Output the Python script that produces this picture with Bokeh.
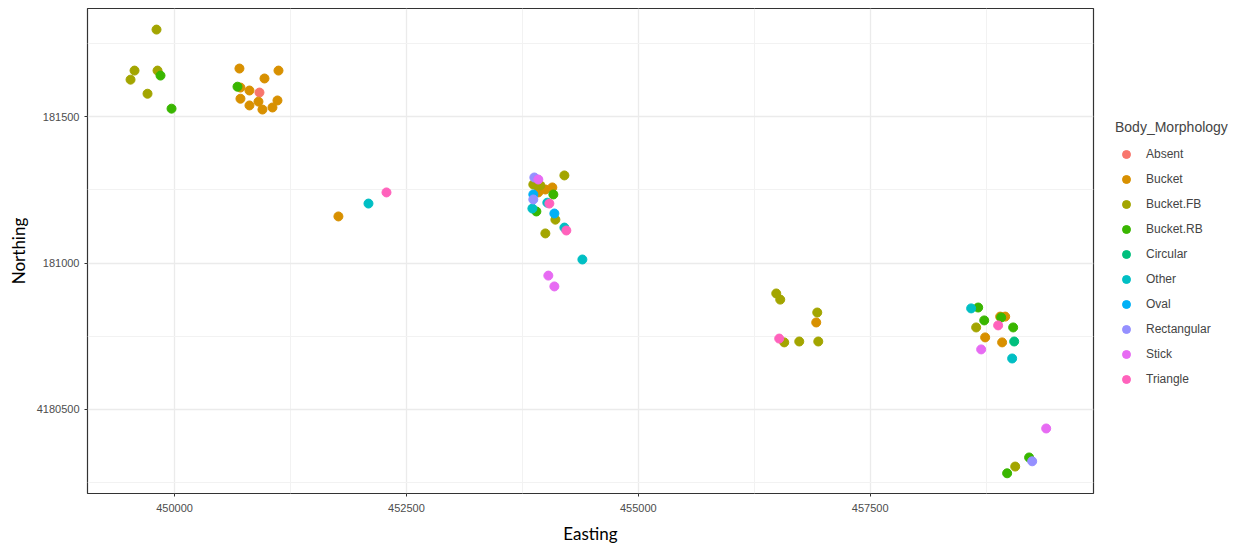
from bokeh.plotting import figure
from bokeh.models import FixedTicker, Legend, LegendItem, BasicTickFormatter
from bokeh.embed import file_html
from bokeh.resources import INLINE

categories = ["Absent", "Bucket", "Bucket.FB", "Bucket.RB", "Circular",
              "Other", "Oval", "Rectangular", "Stick", "Triangle"]
palette = ["#F8766D", "#D89000", "#A3A500", "#39B600", "#00BF7D",
           "#00BFC4", "#00B0F6", "#9590FF", "#E76BF3", "#FF62BC"]

easting = [
    449806, 449569, 449526, 449817, 449849, 449709, 449968,
    450700, 451121, 450970, 450679, 450711, 450808, 450916, 450711, 450905, 451110, 450808, 450948, 451056,
    451767, 452091, 452285,
    454203, 453879, 453922, 453868, 453944, 453900, 453922, 453998, 454073, 454084, 453868, 453868,
    454019, 454041, 453858, 453901, 454095, 454106, 454203, 454224, 453998, 454397, 454030, 454095,
    456487, 456530, 456929, 456918, 456519, 456573, 456735, 456940,
    458588, 458664, 458729, 458642, 458739, 458696, 458879, 458912, 458901, 458955, 459041, 458922,
    459052, 459030, 459397, 459213, 459246, 459063, 458976,
]
northing = [
    4181797, 4181657, 4181626, 4181657, 4181640, 4181578, 4181527,
    4181664, 4181657, 4181630, 4181602, 4181599, 4181589, 4181582, 4181561, 4181551, 4181555, 4181538, 4181524, 4181531,
    4181159, 4181203, 4181241,
    4181299, 4181292, 4181285, 4181268, 4181265, 4181266, 4181241, 4181251, 4181258, 4181234, 4181234, 4181217,
    4181206, 4181203, 4181186, 4181176, 4181169, 4181148, 4181121, 4181111, 4181101, 4181012, 4180957, 4180920,
    4180896, 4180875, 4180831, 4180797, 4180742, 4180729, 4180732, 4180732,
    4180845, 4180848, 4180804, 4180780, 4180746, 4180705, 4180787, 4180814, 4180817, 4180817, 4180780, 4180729,
    4180732, 4180674, 4180435, 4180336, 4180323, 4180305, 4180282,
]
morphology = [
    "Bucket.FB", "Bucket.FB", "Bucket.FB", "Bucket.FB", "Bucket.RB", "Bucket.FB", "Bucket.RB",
    "Bucket", "Bucket", "Bucket", "Bucket.RB", "Bucket", "Bucket", "Absent", "Bucket", "Bucket", "Bucket", "Bucket", "Bucket", "Bucket",
    "Bucket", "Other", "Triangle",
    "Bucket.FB", "Rectangular", "Stick", "Bucket.FB", "Bucket.FB", "Bucket.FB", "Bucket", "Bucket", "Bucket", "Bucket.RB", "Oval", "Rectangular",
    "Other", "Triangle", "Other", "Bucket.RB", "Oval", "Bucket.FB", "Other", "Triangle", "Bucket.FB", "Other", "Stick", "Stick",
    "Bucket.FB", "Bucket.FB", "Bucket.FB", "Bucket", "Triangle", "Bucket.FB", "Bucket.FB", "Bucket.FB",
    "Other", "Bucket.RB", "Bucket.RB", "Bucket.FB", "Bucket", "Stick", "Triangle", "Bucket.RB", "Bucket", "Bucket", "Bucket.RB", "Bucket",
    "Circular", "Other", "Stick", "Bucket.RB", "Rectangular", "Bucket.FB", "Bucket.RB",
]

x_ticks = [450000, 452500, 455000, 457500]
x_minor = [448750, 451250, 453750, 456250, 458750]
y_ticks = [4180500, 4181000, 4181500]
y_minor = [4180250, 4180750, 4181250, 4181750]
y_tick_labels = {4180500: "4180500", 4181000: "181000", 4181500: "181500"}

p = figure(frame_width=1006, frame_height=485, output_backend="svg", toolbar_location=None,
           x_range=(449062, 459907), y_range=(4180213, 4181869),
           min_border_left=87, min_border_right=162, min_border_top=8, min_border_bottom=56)
p.background_fill_color = "white"
p.border_fill_color = "white"
p.outline_line_color = "#333333"
p.outline_line_width = 1.2

p.xaxis.ticker = FixedTicker(ticks=x_ticks, minor_ticks=x_minor)
p.yaxis.ticker = FixedTicker(ticks=y_ticks, minor_ticks=y_minor)
p.xaxis.formatter = BasicTickFormatter(use_scientific=False)
p.yaxis.major_label_overrides = y_tick_labels
for ax in (p.xaxis, p.yaxis):
    ax.axis_line_color = None
    ax.major_tick_line_color = "#333333"
    ax.major_tick_in = 0
    ax.major_tick_out = 3
    ax.minor_tick_line_color = None
    ax.major_label_text_font = "Liberation Sans"
    ax.major_label_text_font_size = "11px"
    ax.major_label_text_color = "#4D4D4D"
    ax.axis_label_text_font = "Lato"
    ax.axis_label_text_font_style = "normal"
    ax.axis_label_text_font_size = "17px"
    ax.axis_label_text_color = "black"
p.xaxis.axis_label = "Easting"
p.yaxis.axis_label = "Northing"
p.yaxis.major_label_orientation = "horizontal"
p.xaxis.major_label_standoff = 6
p.yaxis.major_label_standoff = 4
p.xaxis.axis_label_standoff = 8
p.yaxis.axis_label_standoff = 5

for g in (p.xgrid, p.ygrid):
    g.grid_line_color = "#EBEBEB"
    g.grid_line_width = 1.3
    g.minor_grid_line_color = "#F2F2F2"
    g.minor_grid_line_width = 1

items = []
for cat, col in zip(categories, palette):
    xs = [x for x, m in zip(easting, morphology) if m == cat]
    ys = [y for y, m in zip(northing, morphology) if m == cat]
    r = p.scatter(xs, ys, size=9, fill_color=col, line_color=col, marker="circle")
    items.append(LegendItem(label=cat, renderers=[r]))

legend = Legend(items=items, title="Body_Morphology", location=(22, 104),
                title_text_font="Liberation Sans", title_text_font_size="14px",
                title_text_font_style="normal", title_standoff=9,
                label_text_font="Liberation Sans", label_text_font_size="12px",
                glyph_width=22, glyph_height=20, label_height=20, spacing=5,
                label_standoff=9, padding=0, margin=0,
                border_line_color=None, background_fill_alpha=0)
p.add_layout(legend, "right")

open("out.html", "w").write(file_html(p, INLINE))
